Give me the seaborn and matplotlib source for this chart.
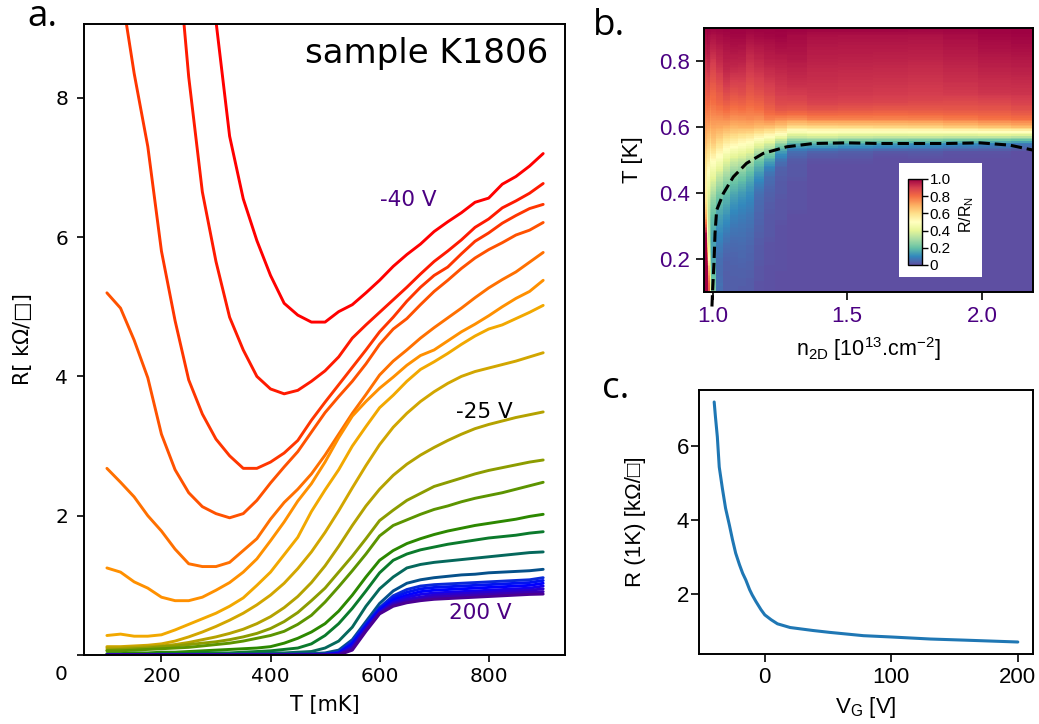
import numpy as np
import pandas as pd
import matplotlib
matplotlib.use("Agg")
import matplotlib.pyplot as plt
import seaborn as sns
from matplotlib.patches import Rectangle

# ---------------- data : panel a (R vs T for each gate voltage) ----------------
T_MK = [100, 125, 150, 175, 200, 225, 250, 275, 300, 325, 350, 375, 400, 425, 450, 475,
        500, 525, 550, 575, 600, 625, 650, 675, 700, 725, 750, 775, 800, 825, 850, 875, 900]

C01 = [40, 35, 30, 25, 20, 16, 13, 11, 9.1, 7.45, 6.55, 5.95, 5.45, 5.05, 4.88, 4.78, 4.78,
       4.93, 5.03, 5.2, 5.38, 5.58, 5.75, 5.9, 6.08, 6.22, 6.35, 6.5, 6.56, 6.76, 6.87, 7.02, 7.2]
C02 = [28, 24, 20, 16, 13, 10.5, 8.3, 6.65, 5.65, 4.85, 4.38, 4.0, 3.82, 3.75, 3.8, 3.93, 4.08,
       4.28, 4.55, 4.74, 4.92, 5.1, 5.28, 5.47, 5.65, 5.8, 5.96, 6.14, 6.26, 6.42, 6.52, 6.63, 6.77]
C03 = [14, 9.6, 8.35, 7.3, 5.8, 4.8, 3.95, 3.46, 3.1, 2.86, 2.68, 2.68, 2.77, 2.9, 3.08, 3.37, 3.63,
       3.88, 4.13, 4.38, 4.64, 4.85, 5.08, 5.28, 5.45, 5.57, 5.76, 5.94, 6.06, 6.2, 6.31, 6.41, 6.47]
C04 = [5.2, 4.98, 4.52, 3.98, 3.17, 2.66, 2.33, 2.13, 2.03, 1.97, 2.03, 2.22, 2.47, 2.70, 2.92, 3.2,
       3.48, 3.71, 3.93, 4.18, 4.46, 4.68, 4.83, 5.03, 5.22, 5.38, 5.55, 5.7, 5.82, 5.92, 6.03, 6.1, 6.21]
C05 = [2.68, 2.48, 2.27, 2.0, 1.78, 1.52, 1.31, 1.27, 1.27, 1.33, 1.5, 1.67, 1.95, 2.19, 2.38, 2.6,
       2.87, 3.17, 3.47, 3.74, 4.02, 4.22, 4.38, 4.55, 4.7, 4.84, 4.98, 5.13, 5.27, 5.39, 5.5, 5.64, 5.78]
C06 = [1.25, 1.19, 1.05, 0.96, 0.83, 0.78, 0.78, 0.83, 0.93, 1.04, 1.19, 1.38, 1.64, 1.91, 2.21, 2.46,
       2.77, 3.12, 3.43, 3.64, 3.83, 3.99, 4.16, 4.3, 4.38, 4.51, 4.64, 4.75, 4.87, 5.0, 5.12, 5.22, 5.38]
C07 = [0.28, 0.3, 0.27, 0.27, 0.29, 0.36, 0.44, 0.52, 0.6, 0.7, 0.82, 1.0, 1.19, 1.44, 1.69, 2.06,
       2.37, 2.66, 3.0, 3.28, 3.55, 3.73, 3.93, 4.1, 4.21, 4.33, 4.46, 4.58, 4.68, 4.74, 4.83, 4.92, 5.02]
C08 = [0.12, 0.12, 0.13, 0.14, 0.16, 0.2, 0.26, 0.33, 0.41, 0.5, 0.6, 0.72, 0.86, 1.03, 1.24, 1.48,
       1.76, 2.07, 2.4, 2.72, 3.02, 3.27, 3.47, 3.64, 3.78, 3.9, 4.0, 4.07, 4.12, 4.17, 4.22, 4.28, 4.34]
C09 = [0.1, 0.1, 0.11, 0.12, 0.13, 0.15, 0.18, 0.22, 0.26, 0.31, 0.37, 0.45, 0.55, 0.68, 0.84, 1.04,
       1.28, 1.56, 1.86, 2.14, 2.38, 2.58, 2.74, 2.87, 2.98, 3.08, 3.17, 3.25, 3.31, 3.36, 3.41, 3.45, 3.49]
C10 = [0.07, 0.08, 0.09, 0.1, 0.12, 0.13, 0.15, 0.17, 0.19, 0.22, 0.26, 0.31, 0.38, 0.48, 0.61, 0.78,
       0.96, 1.19, 1.42, 1.67, 1.93, 2.08, 2.22, 2.32, 2.42, 2.48, 2.54, 2.6, 2.65, 2.69, 2.73, 2.77, 2.80]
C11 = [0.06, 0.06, 0.07, 0.08, 0.09, 0.1, 0.11, 0.13, 0.15, 0.17, 0.2, 0.24, 0.28, 0.34, 0.44, 0.57,
       0.76, 0.98, 1.21, 1.45, 1.71, 1.86, 1.94, 2.02, 2.09, 2.14, 2.2, 2.25, 2.29, 2.33, 2.38, 2.43, 2.48]
C12 = [0.02, 0.02, 0.03, 0.03, 0.04, 0.04, 0.05, 0.06, 0.07, 0.08, 0.09, 0.1, 0.12, 0.17, 0.24, 0.33,
       0.45, 0.63, 0.86, 1.12, 1.36, 1.5, 1.6, 1.67, 1.73, 1.78, 1.82, 1.86, 1.89, 1.92, 1.95, 1.99, 2.02]
C13 = [0.01, 0.01, 0.01, 0.01, 0.02, 0.02, 0.02, 0.03, 0.03, 0.03, 0.04, 0.05, 0.06, 0.08, 0.1, 0.16,
       0.28, 0.45, 0.67, 0.92, 1.18, 1.36, 1.45, 1.51, 1.55, 1.59, 1.62, 1.65, 1.68, 1.7, 1.72, 1.75, 1.77]
C14 = [0.0, 0.0, 0.0, 0.01, 0.01, 0.01, 0.01, 0.01, 0.01, 0.02, 0.02, 0.02, 0.03, 0.03, 0.04, 0.05,
       0.1, 0.2, 0.4, 0.7, 0.95, 1.12, 1.25, 1.3, 1.33, 1.35, 1.37, 1.39, 1.41, 1.43, 1.45, 1.47, 1.48]
C15 = [0.0, 0.0, 0.0, 0.0, 0.0, 0.0, 0.0, 0.0, 0.0, 0.0, 0.01, 0.01, 0.01, 0.01, 0.02, 0.02,
       0.03, 0.07, 0.22, 0.48, 0.74, 0.92, 1.03, 1.08, 1.11, 1.13, 1.15, 1.16, 1.18, 1.19, 1.2, 1.21, 1.23]
B1 = [0.0] * 16 + [0.01, 0.04, 0.2, 0.45, 0.68, 0.85, 0.94, 0.99, 1.01, 1.02, 1.03, 1.04, 1.05, 1.06, 1.07, 1.08, 1.11]
B2 = [0.0] * 16 + [0.01, 0.03, 0.17, 0.42, 0.66, 0.82, 0.9, 0.95, 0.97, 0.98, 0.99, 1.0, 1.01, 1.02, 1.03, 1.04, 1.07]
B3 = [0.0] * 16 + [0.0, 0.02, 0.15, 0.4, 0.64, 0.79, 0.86, 0.91, 0.93, 0.94, 0.95, 0.96, 0.97, 0.98, 0.99, 1.0, 1.03]
B4 = [0.0] * 16 + [0.0, 0.02, 0.13, 0.39, 0.62, 0.76, 0.83, 0.87, 0.89, 0.9, 0.91, 0.92, 0.93, 0.94, 0.95, 0.96, 0.99]
B5 = [0.0] * 16 + [0.0, 0.01, 0.11, 0.37, 0.61, 0.74, 0.8, 0.83, 0.86, 0.87, 0.88, 0.89, 0.9, 0.91, 0.92, 0.93, 0.95]
B6 = [0.0] * 16 + [0.0, 0.01, 0.09, 0.36, 0.6, 0.72, 0.77, 0.8, 0.83, 0.84, 0.85, 0.86, 0.87, 0.88, 0.89, 0.9, 0.91]
B7 = [0.0] * 16 + [0.0, 0.0, 0.07, 0.34, 0.59, 0.7, 0.75, 0.78, 0.8, 0.81, 0.82, 0.83, 0.84, 0.85, 0.86, 0.87, 0.875]

CURVES = [C01, C02, C03, C04, C05, C06, C07, C08, C09, C10, C11, C12, C13, C14, C15,
          B1, B2, B3, B4, B5, B6, B7]
CURVE_NAMES = ["c%02d" % i for i in range(1, len(CURVES) + 1)]

# carrier density attributed to each curve (panel b columns), 10^13 cm^-2
N2D = [0.971, 0.976, 0.981, 0.986, 0.991, 1.0, 1.025, 1.05, 1.08, 1.11, 1.14, 1.17, 1.21, 1.25,
       1.30, 1.40, 1.53, 1.66, 1.79, 1.92, 2.05, 2.17]

# dashed Tc line (panel b)
TC_N = [0.9975, 1.0, 1.005, 1.009, 1.015, 1.04, 1.077, 1.126, 1.188, 1.275, 1.374, 1.498, 1.621,
        1.745, 1.869, 1.993, 2.104, 2.19]
TC_T = [0.056, 0.106, 0.187, 0.278, 0.348, 0.399, 0.449, 0.490, 0.520, 0.540, 0.550, 0.552, 0.550,
        0.550, 0.550, 0.552, 0.545, 0.530]

# panel c: R at 1 K vs gate voltage
VG_C = [-40, -39, -37.5, -36, -33.5, -31, -28, -25.5, -23, -20, -17.5, -15, -12, -10, -7, -3, 0,
        5, 10, 20, 38, 51, 78, 100, 131, 158, 200]
R1K_C = [7.18, 6.78, 6.24, 5.43, 4.85, 4.32, 3.87, 3.47, 3.11, 2.80, 2.57, 2.39, 2.13, 1.99, 1.81,
         1.59, 1.45, 1.32, 1.21, 1.11, 1.03, 0.98, 0.89, 0.855, 0.80, 0.77, 0.72]

# ---------------- style ----------------
CURVE_COLORS = ["#ff0000", "#ff1a00", "#ff3600", "#ff5200", "#ff7000", "#ff9000", "#f2a800",
                "#d2a600", "#b4a200", "#8c9c00", "#5c9400", "#2c8800", "#0b7a2c", "#05685c",
                "#05508a", "#0a2ad8", "#0012f0", "#0000ff", "#1400ee", "#2800d0", "#3a00b4", "#4b0092"]
PURPLE = "#4B0082"
ARIAL = ["Liberation Sans", "DejaVu Sans"]

sns.set_style("ticks", {"axes.edgecolor": "black", "xtick.color": "black", "ytick.color": "black",
                        "text.color": "black", "axes.labelcolor": "black"})
plt.rcParams["font.family"] = ["DejaVu Sans"]
plt.rcParams["mathtext.default"] = "regular"
plt.rcParams["axes.linewidth"] = 1.4

W, H = 1039, 724
fig = plt.figure(figsize=(W / 100, H / 100), dpi=100)


def box(l, t, r, b):
    return [l / W, 1 - b / H, (r - l) / W, (b - t) / H]


ax_a = fig.add_axes(box(84, 24, 565, 655))
ax_b = fig.add_axes(box(704, 28, 1033, 292))
ax_c = fig.add_axes(box(699, 390, 1033, 654))

# ---------------- panel a ----------------
rows = []
for name, vals in zip(CURVE_NAMES, CURVES):
    for t, r in zip(T_MK, vals):
        rows.append({"curve": name, "T": t, "R": r})
df_a = pd.DataFrame(rows)
sns.lineplot(data=df_a, x="T", y="R", hue="curve", hue_order=CURVE_NAMES,
             palette=dict(zip(CURVE_NAMES, CURVE_COLORS)), estimator=None, sort=False,
             lw=2.1, legend=False, ax=ax_a)
ax_a.set_xlim(58, 940)
ax_a.set_ylim(0, 9.06)
ax_a.set_xticks([200, 400, 600, 800], ["200", "400", "600", "800"], fontsize=14.5)
ax_a.set_yticks([0, 2, 4, 6, 8], ["", "2", "4", "6", "8"], fontsize=14.5)
ax_a.tick_params(axis="both", length=4.8, width=1.2)
ax_a.tick_params(axis="x", pad=3.5)
ax_a.tick_params(axis="y", pad=6.5)
ax_a.set_xlabel("T [mK]", fontsize=15)
ax_a.set_ylabel("R[ kΩ/□]", fontsize=15)
ax_a.xaxis.set_label_coords(0.5, -0.063)
ax_a.yaxis.set_label_coords(-0.106, 0.5)
ax_a.text(0.9647, 0.9377, "sample K1806", transform=ax_a.transAxes, ha="right",
          va="baseline", fontsize=24.5)
ax_a.text(652, 6.54, "-40 V", color=PURPLE, fontsize=15.5, ha="center", va="center")
ax_a.text(793, 3.49, "-25 V", color="black", fontsize=15.5, ha="center", va="center")
ax_a.text(785, 0.60, "200 V", color=PURPLE, fontsize=15.5, ha="center", va="center")
fig.text(61 / W, 1 - 674 / H, "0", fontsize=14.5, ha="center", va="center")

# ---------------- panel b ----------------
R = np.array(CURVES, dtype=float)
ratio = np.clip(R / R[:, -1][:, None], 0, 1)
T_K = np.array(T_MK) / 1000.0
T_fine = np.linspace(0.1, 0.9, 161)
Z = np.array([np.interp(T_fine, T_K, row) for row in ratio]).T
mesh = ax_b.pcolormesh(N2D, T_fine, Z, cmap="Spectral_r", vmin=0, vmax=1,
                       shading="nearest", rasterized=True)
ax_b.plot(TC_N, TC_T, color="black", ls="--", lw=2.2, clip_on=False, zorder=4)
ax_b.set_xlim(0.968, 2.19)
ax_b.set_ylim(0.1, 0.9)
ax_b.set_xticks([1.0, 1.5, 2.0], ["1.0", "1.5", "2.0"], fontsize=16, family=ARIAL, color=PURPLE)
ax_b.set_yticks([0.2, 0.4, 0.6, 0.8], ["0.2", "0.4", "0.6", "0.8"], fontsize=16, family=ARIAL,
                color=PURPLE)
ax_b.tick_params(axis="both", length=6, width=1.2, pad=4)
ax_b.set_xlabel(r"n$_{2D}$ [10$^{13}$.cm$^{-2}$]", fontsize=15.5, family=ARIAL)
ax_b.set_ylabel("T [K]", fontsize=16, family=ARIAL)
ax_b.xaxis.set_label_coords(0.5, -0.163)
ax_b.yaxis.set_label_coords(-0.185, 0.5)

ax_b.add_patch(Rectangle((899 / W, 1 - 277 / H), 83 / W, 114 / H, transform=fig.transFigure,
                         facecolor="white", edgecolor="none", zorder=6))
cax = fig.add_axes(box(908, 179, 922, 265))
cb = fig.colorbar(mesh, cax=cax)
cb.set_ticks([0, 0.2, 0.4, 0.6, 0.8, 1.0])
cb.set_ticklabels(["0", "0.2", "0.4", "0.6", "0.8", "1.0"], fontsize=11, family=ARIAL)
cb.outline.set_linewidth(1.0)
cax.tick_params(length=4, width=1.0, pad=1.5)
fig.text(967 / W, 1 - 215 / H, r"R/R$_N$", rotation=90, fontsize=11.5, family=ARIAL,
         ha="center", va="center")

# ---------------- panel c ----------------
sns.lineplot(x=VG_C, y=R1K_C, color="#1f77b4", lw=2.2, ax=ax_c)
ax_c.set_xticks([0, 100, 200], ["0", "100", "200"], fontsize=16, family=ARIAL)
ax_c.set_yticks([2, 4, 6], ["2", "4", "6"], fontsize=16, family=ARIAL)
ax_c.tick_params(axis="both", length=5.5, width=1.2)
ax_c.tick_params(axis="y", pad=1.5)
ax_c.tick_params(axis="x", pad=4)
ax_c.set_xlabel(r"V$_G$ [V]", fontsize=16, family=ARIAL)
ax_c.set_ylabel("R (1K) [kΩ/□]", fontsize=16, family=ARIAL)
ax_c.xaxis.set_label_coords(0.5, -0.155)
ax_c.yaxis.set_label_coords(-0.159, 0.5)

# ---------------- panel letters ----------------
for x, y, s in [(27, 26, "a."), (593, 35, "b."), (602, 398, "c.")]:
    fig.text(x / W, 1 - y / H, s, fontsize=26.5, family=["Open Sans", "DejaVu Sans"],
             ha="left", va="baseline")

fig.savefig("out.png", dpi=100)
